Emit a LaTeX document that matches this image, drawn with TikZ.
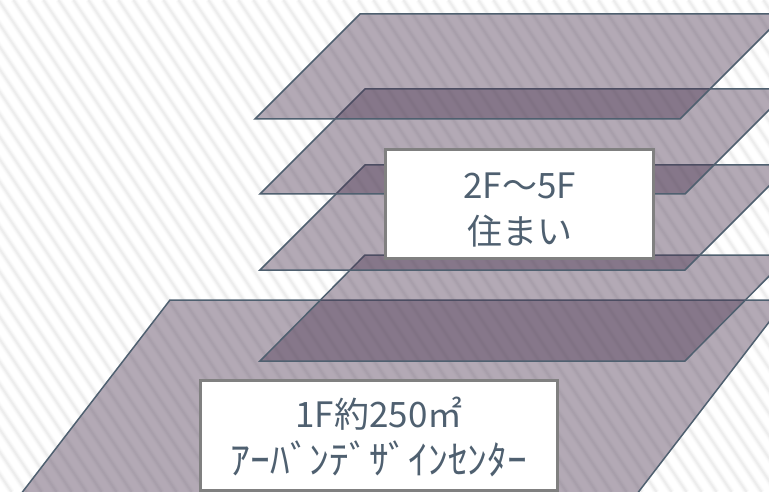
\documentclass[tikz,border=0pt]{standalone}
\usepackage{fontspec}
\newfontfamily\jpfont{Noto Sans CJK JP}
\definecolor{edgec}{HTML}{4F6070}
\definecolor{floorc}{HTML}{4A3450}
\definecolor{framec}{HTML}{808080}
\tikzset{
  floorplate/.style={draw=edgec,line width=1.5pt,fill=floorc,fill opacity=0.42,draw opacity=1,line join=miter},
  labelbox/.style={draw=framec,line width=3pt,fill=white,text=edgec,align=center,inner sep=0pt,font=\jpfont\fontsize{35}{45}\selectfont}
}
\begin{document}
\begin{tikzpicture}[x=1pt,y=-1pt]
\useasboundingbox (0,0) rectangle (769,492);
\clip (0,0) rectangle (769,492);
\fill[white] (0,0) rectangle (769,492);
\foreach \k in {-22,...,52}{
  \draw[draw=black!1.5,line width=6pt] ({\k*15-1.5},0) -- ({\k*15-1.5+328},492);
  \draw[draw=black!3.5,line width=4pt] ({\k*15-1.5},0) -- ({\k*15-1.5+328},492);
  \draw[draw=black!7,line width=2pt] ({\k*15-1.5},0) -- ({\k*15-1.5+328},492);
}
\draw[floorplate] (170,300) -- (786,300) -- (630,503) -- (14,503) -- cycle;
\draw[floorplate] (260,361) -- (365,255) -- (790,255) -- (685,361) -- cycle;
\draw[floorplate] (260,270) -- (365,165) -- (790,165) -- (685,270) -- cycle;
\draw[floorplate] (260,194) -- (365,89) -- (790,89) -- (685,194) -- cycle;
\draw[floorplate] (255,119) -- (360,14) -- (785,14) -- (680,119) -- cycle;
\node[labelbox,minimum width=268pt,minimum height=109pt] (upper) at (519.5,204) {\rule{0pt}{38pt}\raisebox{1pt}{2F～5F}\\住まい};
\node[labelbox,minimum width=357pt,minimum height=110pt] (lower) at (379,435.5) {\rule{0pt}{36pt}\raisebox{2pt}{1F約250㎡}\\{\fontsize{39.5}{45}\selectfont ｱｰﾊﾞﾝﾃﾞｻﾞｲﾝｾﾝﾀｰ}};
\end{tikzpicture}
\end{document}
